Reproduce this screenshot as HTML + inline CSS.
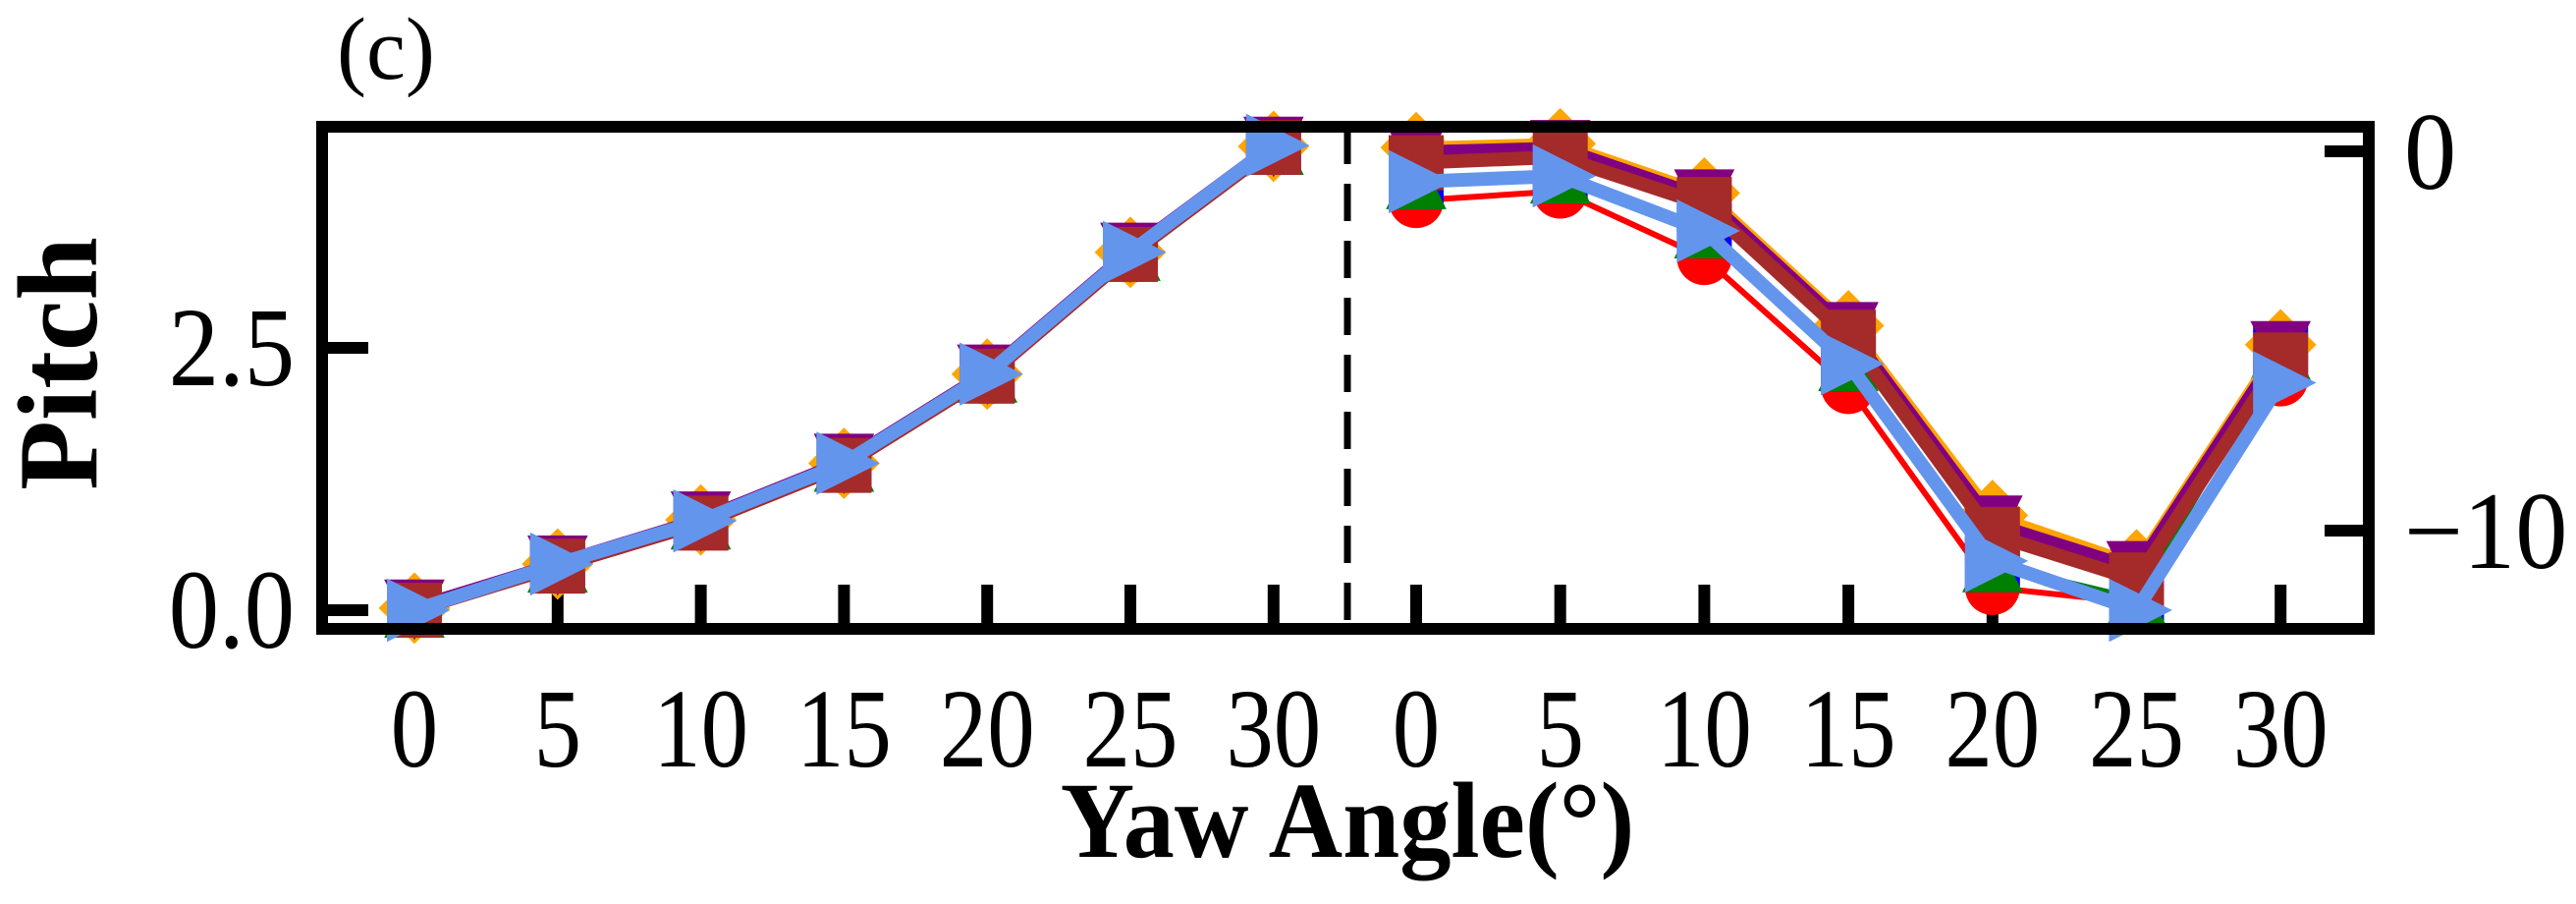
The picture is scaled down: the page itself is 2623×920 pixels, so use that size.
<!DOCTYPE html>
<html><head><meta charset="utf-8"><style>
html,body{margin:0;padding:0;background:#fff;}
svg{display:block;}
text{font-family:"Liberation Serif",serif;fill:#000;}
</style></head><body>
<svg id="chart" width="2623" height="920" viewBox="0 0 2623 920" xmlns="http://www.w3.org/2000/svg">
<text x="343" y="80" font-size="90">(c)</text>
<line x1="1372" y1="129" x2="1372" y2="640" stroke="#000" stroke-width="7" stroke-dasharray="38,20"/>
<g id="ticks"></g>
<g id="series"></g>
<rect x="328" y="129" width="2084" height="511" fill="none" stroke="#000" stroke-width="12"/>
<text transform="translate(98,370) rotate(-90)" text-anchor="middle" font-size="116" font-weight="bold">Pitch</text>
<text transform="translate(1372,872) scale(0.95,1)" text-anchor="middle" font-size="110" font-weight="bold">Yaw Angle(°)</text>
</svg>
<script>
const categories=[0,5,10,15,20,25,30];
const leftTicks=[0.0,2.5];
const leftTickLabels=["0.0","2.5"];
const rightTicks=[0,-10];
const rightTickLabels=["0","\u221210"];
const leftRed=[0.0,0.42,0.83,1.38,2.22,3.38,4.40];
const leftBlue=[0.0,0.43,0.84,1.39,2.24,3.40,4.41];
const leftOrange=[0.02,0.44,0.86,1.40,2.25,3.41,4.42];
const leftPurple=[0.03,0.45,0.87,1.42,2.27,3.43,4.44];
const leftBrown=[0.0,0.42,0.83,1.38,2.23,3.39,4.41];
const leftCorn=[0.0,0.44,0.85,1.40,2.25,3.41,4.43];
const rightRed=[-1.3,-1.05,-2.8,-6.2,-11.5,-11.9,-6.0];
const rightBlue=[-0.8,-0.65,-2.1,-5.6,-10.9,-11.8,-5.3];
const rightOrange=[0.1,0.2,-1.1,-4.6,-9.6,-10.9,-5.1];
const rightPurple=[0.0,0.1,-1.2,-4.7,-9.8,-11.0,-5.2];
const rightBrown=[-0.3,-0.15,-1.4,-4.9,-10.1,-11.3,-5.5];
const rightCorn=[-0.8,-0.65,-2.1,-5.6,-10.8,-12.1,-6.1];

const NS="http://www.w3.org/2000/svg";
function xL(c){return 422+(c/5)*145.8;}
function xR(c){return 1442+(c/5)*146.7;}
function yL(v){return 621-v*106.8;}
function yR(v){return 154-v*38.6;}
function mk(tag,attrs,parent){const e=document.createElementNS(NS,tag);for(const k in attrs)e.setAttribute(k,attrs[k]);parent.appendChild(e);return e;}
const tg=document.getElementById('ticks');
const sg=document.getElementById('series');
categories.forEach(c=>{
  [xL(c),xR(c)].forEach(x=>{
    const t=mk('line',{x1:x,y1:595,x2:x,y2:640,stroke:'#000','stroke-width':12},tg);
    
    
    const l=mk('text',{transform:`translate(${x},780) scale(0.85,1)`,'text-anchor':'middle','font-size':114},tg);
    l.textContent=String(c);
    
    
  });
});
leftTicks.forEach((v,i)=>{
  const t=mk('line',{x1:328,y1:yL(v),x2:375,y2:yL(v),stroke:'#000','stroke-width':12},tg);
  
  
  const l=mk('text',{transform:`translate(300,${yL(v)+38}) scale(0.9,1)`,'text-anchor':'end','font-size':114},tg);
  l.textContent=leftTickLabels[i];
  
  
});
rightTicks.forEach((v,i)=>{
  const t=mk('line',{x1:2367,y1:yR(v),x2:2412,y2:yR(v),stroke:'#000','stroke-width':12},tg);
  
  
  const l=mk('text',{transform:`translate(2448,${yR(v)+38}) scale(0.95,1)`,'text-anchor':'start','font-size':112},tg);
  l.textContent=rightTickLabels[i];
  
  
});
function marker(shape,x,y,color,g){
  const s=28;let e;
  if(shape==='circle')e=mk('circle',{cx:x,cy:y,r:s},g);
  else if(shape==='square')e=mk('rect',{x:x-s,y:y-s,width:2*s,height:2*s},g);
  else if(shape==='diamond')e=mk('polygon',{points:`${x},${y-s*1.3} ${x+s*1.3},${y} ${x},${y+s*1.3} ${x-s*1.3},${y}`},g);
  else if(shape==='tri-up')e=mk('polygon',{points:`${x},${y-s*1.2} ${x+s*1.1},${y+s} ${x-s*1.1},${y+s}`},g);
  else if(shape==='tri-down')e=mk('polygon',{points:`${x-s*1.1},${y-s} ${x+s*1.1},${y-s} ${x},${y+s*1.2}`},g);
  else e=mk('polygon',{points:`${x-s},${y-s*1.15} ${x+s*1.3},${y} ${x-s},${y+s*1.15}`},g);
  e.setAttribute('fill',color);
  return e;
}
const defs=[
 ['red','circle',leftRed,rightRed,6],
 ['blue','square',leftBlue,rightBlue,6],
 ['green','tri-up',leftBlue,rightBlue,6],
 ['orange','diamond',leftOrange,rightOrange,12],
 ['purple','tri-down',leftPurple,rightPurple,12],
 ['brown','square',leftBrown,rightBrown,14],
 ['cornflowerblue','tri-right',leftCorn,rightCorn,14]
];
defs.forEach(([color,shape,lv,rv,w])=>{
  const g=mk('g',{},sg);
  
  
  [[xL,yL,lv],[xR,yR,rv]].forEach(([fx,fy,vals])=>{
    const pts=categories.map((c,i)=>fx(c)+','+fy(vals[i])).join(' ');
    const pl=mk('polyline',{points:pts,fill:'none',stroke:color,'stroke-width':w,'stroke-linejoin':'round'},g);
    
    
    categories.forEach((c,i)=>{
      const m=marker(shape,fx(c),fy(vals[i]),color,g);
      
      
    });
  });
});
</script>
</body></html>
